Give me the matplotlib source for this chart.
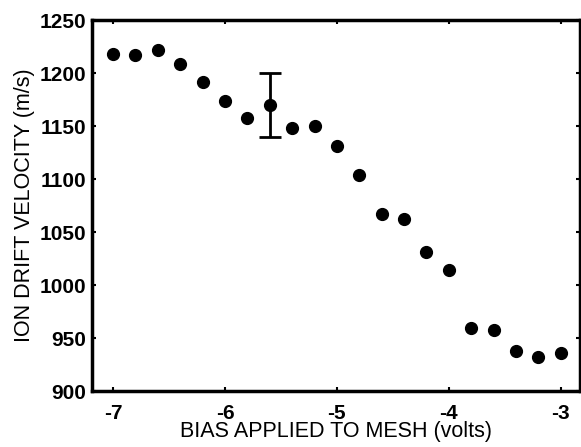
import matplotlib
matplotlib.use("Agg")
import matplotlib.pyplot as plt

# bias on the mesh (volts) and measured ion drift velocity (m/s)
bias = [-7.0, -6.8, -6.6, -6.4, -6.2, -6.0, -5.8, -5.6, -5.4, -5.2, -5.0,
        -4.8, -4.6, -4.4, -4.2, -4.0, -3.8, -3.6, -3.4, -3.2, -3.0]
velocity = [1218, 1217, 1222, 1209, 1192, 1174, 1158, 1170, 1148, 1150, 1131,
            1104, 1067, 1062, 1031, 1014, 960, 958, 938, 932, 936]

# single representative error bar
err_x = [-5.6]
err_y = [1170]
err_size = [30]

xticks = [-7, -6, -5, -4, -3]
yticks = [900, 950, 1000, 1050, 1100, 1150, 1200, 1250]

plt.rcParams['font.family'] = ['Liberation Sans', 'DejaVu Sans']

fig = plt.figure(figsize=(5.81, 4.47), dpi=100)
ax = fig.add_axes([0.158, 0.125, 0.84, 0.83])

ax.plot(bias, velocity, 'o', color='black', markersize=8.5)
ax.errorbar(err_x, err_y, yerr=err_size, fmt='none', ecolor='black',
            elinewidth=2, capsize=8, capthick=2)

ax.set_xlim(-7.19, -2.83)
ax.set_ylim(900, 1250)
ax.set_xticks(xticks)
ax.set_xticklabels([str(t) for t in xticks])
ax.set_yticks(yticks)

for s in ax.spines.values():
    s.set_linewidth(2.5)
ax.tick_params(direction='in', length=3, width=1.5, top=True, right=True,
               labelsize=15)
ax.tick_params(axis='x', pad=9)
ax.tick_params(axis='y', pad=4)
for lab in ax.get_xticklabels() + ax.get_yticklabels():
    lab.set_fontweight('bold')

ax.set_xlabel('BIAS APPLIED TO MESH (volts)', fontsize=15.5, labelpad=-1)
ax.set_ylabel('ION DRIFT VELOCITY (m/s)', fontsize=15.5, labelpad=3)

fig.savefig('out.png', dpi=100)
